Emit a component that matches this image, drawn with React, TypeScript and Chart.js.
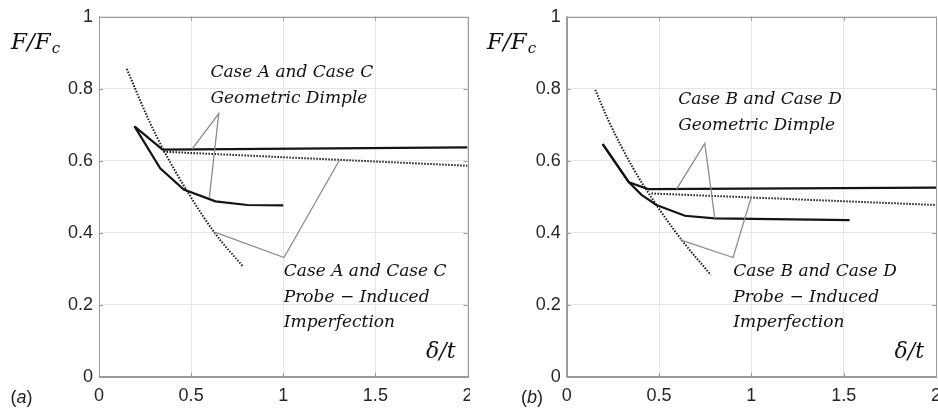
import React, { useEffect, useRef } from 'react';
import { Chart, registerables } from 'chart.js';

Chart.register(...registerables);

const X_TICKS = [0, 0.5, 1, 1.5, 2];
const Y_TICKS = [0, 0.2, 0.4, 0.6, 0.8, 1];

// ---------- Panel (a) ----------
const aGeoUpperX = [0.196, 0.345, 2.0];
const aGeoUpperY = [0.694, 0.631, 0.637];
const aGeoLowerX = [0.192, 0.332, 0.46, 0.632, 0.805, 1.0];
const aGeoLowerY = [0.696, 0.579, 0.52, 0.487, 0.477, 0.476];
const aProbeSteepX = [0.151, 0.27, 0.35, 0.48, 0.63, 0.78];
const aProbeSteepY = [0.855, 0.713, 0.63, 0.514, 0.398, 0.307];
const aProbeFlatX = [0.35, 2.0];
const aProbeFlatY = [0.625, 0.586];
const aGeoLeaderX = [0.505, 0.65, 0.599];
const aGeoLeaderY = [0.632, 0.731, 0.498];
const aProbeLeaderX = [0.632, 1.004, 1.303];
const aProbeLeaderY = [0.401, 0.331, 0.6];
const aGeoText = ['Case A and Case C', 'Geometric Dimple'];
const aProbeText = ['Case A and Case C', 'Probe \u2212 Induced', 'Imperfection'];

// ---------- Panel (b) ----------
const bGeoUpperX = [0.195, 0.337, 0.441, 2.0];
const bGeoUpperY = [0.646, 0.54, 0.521, 0.525];
const bGeoLowerX = [0.195, 0.337, 0.405, 0.486, 0.64, 0.802, 1.532];
const bGeoLowerY = [0.646, 0.54, 0.505, 0.477, 0.447, 0.44, 0.435];
const bProbeSteepX = [0.155, 0.225, 0.36, 0.486, 0.622, 0.78];
const bProbeSteepY = [0.797, 0.713, 0.579, 0.477, 0.38, 0.283];
const bProbeFlatX = [0.459, 2.0];
const bProbeFlatY = [0.509, 0.477];
const bGeoLeaderX = [0.595, 0.748, 0.802];
const bGeoLeaderY = [0.521, 0.648, 0.44];
const bProbeLeaderX = [0.616, 0.901, 1.0];
const bProbeLeaderY = [0.38, 0.331, 0.5];
const bGeoText = ['Case B and Case D', 'Geometric Dimple'];
const bProbeText = ['Case B and Case D', 'Probe \u2212 Induced', 'Imperfection'];

const X_TITLE = '\u03b4/t';
const Y_TITLE_MAIN = 'F/F';
const Y_TITLE_SUB = 'c';

// label anchors (data coordinates of first line, left edge)
const PANEL_A = {
  label: 'a',
  labelCenterX: 21.5,
  yWidth: 99,
  padRight: 2.5,
  yTitleLeft: 11,
  texts: [
    { lines: aGeoText, x: 0.605, y: 0.8436 },
    { lines: aProbeText, x: 1.003, y: 0.2917 },
  ],
  series: {
    geoUpper: [aGeoUpperX, aGeoUpperY],
    geoLower: [aGeoLowerX, aGeoLowerY],
    probeSteep: [aProbeSteepX, aProbeSteepY],
    probeFlat: [aProbeFlatX, aProbeFlatY],
    geoLeader: [aGeoLeaderX, aGeoLeaderY],
    probeLeader: [aProbeLeaderX, aProbeLeaderY],
  },
};

const PANEL_B = {
  label: 'b',
  labelCenterX: 62,
  yWidth: 96.7,
  padRight: 2,
  yTitleLeft: 17,
  texts: [
    { lines: bGeoText, x: 0.604, y: 0.769 },
    { lines: bProbeText, x: 0.902, y: 0.2917 },
  ],
  series: {
    geoUpper: [bGeoUpperX, bGeoUpperY],
    geoLower: [bGeoLowerX, bGeoLowerY],
    probeSteep: [bProbeSteepX, bProbeSteepY],
    probeFlat: [bProbeFlatX, bProbeFlatY],
    geoLeader: [bGeoLeaderX, bGeoLeaderY],
    probeLeader: [bProbeLeaderX, bProbeLeaderY],
  },
};

const MATH_FONT = '"DejaVu Serif", serif';
const SANS_FONT = '"Liberation Sans", Arial, sans-serif';
const BOX_COLOR = '#9a9a9a';

const decorPlugin = {
  id: 'decor',
  beforeDatasetsDraw(chart: any) {
    const { ctx, chartArea: a } = chart;
    const xs = chart.scales.x;
    const ys = chart.scales.y;
    ctx.save();
    ctx.strokeStyle = BOX_COLOR;
    ctx.lineWidth = 1;
    ctx.beginPath();
    X_TICKS.forEach((v) => {
      const px = Math.round(xs.getPixelForValue(v)) + 0.5;
      ctx.moveTo(px, a.bottom);
      ctx.lineTo(px, a.bottom - 4);
      ctx.moveTo(px, a.top);
      ctx.lineTo(px, a.top + 4);
    });
    Y_TICKS.forEach((v) => {
      const py = Math.round(ys.getPixelForValue(v)) + 0.5;
      ctx.moveTo(a.left, py);
      ctx.lineTo(a.left + 4, py);
      ctx.moveTo(a.right, py);
      ctx.lineTo(a.right - 4, py);
    });
    ctx.stroke();
    ctx.restore();
  },
  afterDraw(chart: any, _args: any, opts: any) {
    const { ctx, chartArea: a } = chart;
    const xs = chart.scales.x;
    const ys = chart.scales.y;
    ctx.save();
    // box
    ctx.strokeStyle = BOX_COLOR;
    ctx.lineWidth = 1;
    ctx.strokeRect(Math.round(a.left) + 0.5, Math.round(a.top) + 0.5, Math.round(a.right - a.left), Math.round(a.bottom - a.top));

    // annotation texts
    ctx.fillStyle = '#111';
    ctx.font = `italic 17px ${MATH_FONT}`;
    ctx.textAlign = 'left';
    ctx.textBaseline = 'middle';
    (opts.texts || []).forEach((t: any) => {
      const x0 = xs.getPixelForValue(t.x);
      const y0 = ys.getPixelForValue(t.y);
      t.lines.forEach((line: string, i: number) => {
        ctx.fillText(line, x0, y0 + i * 25.5);
      });
    });

    // x title inside plot (bottom right)
    ctx.font = `italic 22px ${MATH_FONT}`;
    ctx.textAlign = 'right';
    ctx.textBaseline = 'alphabetic';
    ctx.fillText(X_TITLE, a.right - 12, a.bottom - 19);

    // y title top-left
    ctx.textAlign = 'left';
    ctx.font = `italic 23px ${MATH_FONT}`;
    const yl = opts.yTitleLeft;
    ctx.fillText(Y_TITLE_MAIN, yl, 49);
    const w = ctx.measureText(Y_TITLE_MAIN).width;
    ctx.font = `italic 15px ${MATH_FONT}`;
    ctx.fillText(Y_TITLE_SUB, yl + w + 1, 53);

    // panel label (a)/(b)
    ctx.fillStyle = '#222';
    ctx.textBaseline = 'middle';
    const cy = 398;
    const pOpen = '(';
    const pClose = ')';
    ctx.font = `18px ${SANS_FONT}`;
    const wo = ctx.measureText(pOpen).width;
    const wc = ctx.measureText(pClose).width;
    ctx.font = `italic 18px ${SANS_FONT}`;
    const wl = ctx.measureText(opts.label).width;
    let x = opts.labelCenterX - (wo + wl + wc) / 2;
    ctx.font = `18px ${SANS_FONT}`;
    ctx.fillText(pOpen, x, cy);
    x += wo;
    ctx.font = `italic 18px ${SANS_FONT}`;
    ctx.fillText(opts.label, x, cy);
    x += wl;
    ctx.font = `18px ${SANS_FONT}`;
    ctx.fillText(pClose, x, cy);
    ctx.restore();
  },
};

function toPoints(xs: number[], ys: number[]) {
  return xs.map((x, i) => ({ x, y: ys[i] }));
}

function buildConfig(panel: any): any {
  const s = panel.series;
  const leader = (pair: number[][]) => ({
    data: toPoints(pair[0], pair[1]),
    showLine: true,
    pointRadius: 0,
    borderColor: '#8c8c8c',
    borderWidth: 1.3,
    tension: 0,
  });
  const solid = (pair: number[][]) => ({
    data: toPoints(pair[0], pair[1]),
    showLine: true,
    pointRadius: 0,
    borderColor: '#141414',
    borderWidth: 2.2,
    tension: 0,
  });
  const dotted = (pair: number[][], smooth: boolean) => ({
    data: toPoints(pair[0], pair[1]),
    showLine: true,
    pointRadius: 0,
    borderColor: '#1a1a1a',
    borderWidth: 2,
    borderDash: [1.5, 1.5],
    cubicInterpolationMode: smooth ? 'monotone' : 'default',
    tension: 0,
  });
  return {
    type: 'scatter',
    data: {
      datasets: [
        leader(s.geoLeader),
        leader(s.probeLeader),
        dotted(s.probeSteep, true),
        dotted(s.probeFlat, false),
        solid(s.geoLower),
        solid(s.geoUpper),
      ],
    },
    options: {
      animation: false,
      responsive: false,
      events: [],
      layout: { padding: { left: 0, right: panel.padRight, top: 16.7, bottom: 0 } },
      plugins: {
        legend: { display: false },
        tooltip: { enabled: false },
        decor: {
          texts: panel.texts,
          yTitleLeft: panel.yTitleLeft,
          label: panel.label,
          labelCenterX: panel.labelCenterX,
        },
      },
      scales: {
        x: {
          type: 'linear',
          min: 0,
          max: 2,
          afterBuildTicks: (sc: any) => {
            sc.ticks = X_TICKS.map((v) => ({ value: v }));
          },
          ticks: {
            autoSkip: false,
            maxRotation: 0,
            padding: 9,
            color: '#262626',
            font: { family: SANS_FONT, size: 18 },
            callback: (v: any) => String(v),
          },
          grid: { color: '#e6e6e6', drawTicks: false, lineWidth: 1 },
          border: { display: true, color: BOX_COLOR, width: 1 },
          afterFit: (sc: any) => {
            sc.height = 32.3;
            sc.paddingLeft = 0;
            sc.paddingRight = 0;
          },
        },
        y: {
          type: 'linear',
          min: 0,
          max: 1,
          afterBuildTicks: (sc: any) => {
            sc.ticks = Y_TICKS.map((v) => ({ value: v }));
          },
          ticks: {
            autoSkip: false,
            padding: 6,
            color: '#262626',
            font: { family: SANS_FONT, size: 18 },
            callback: (v: any) => String(v),
          },
          grid: { color: '#e6e6e6', drawTicks: false, lineWidth: 1 },
          border: { display: true, color: BOX_COLOR, width: 1 },
          afterFit: (sc: any) => {
            sc.width = panel.yWidth;
            sc.paddingTop = 0;
            sc.paddingBottom = 0;
          },
        },
      },
    },
    plugins: [decorPlugin],
  };
}

export default function App() {
  const aRef = useRef<HTMLCanvasElement>(null);
  const bRef = useRef<HTMLCanvasElement>(null);
  useEffect(() => {
    const ca = new Chart(aRef.current as HTMLCanvasElement, buildConfig(PANEL_A));
    const cb = new Chart(bRef.current as HTMLCanvasElement, buildConfig(PANEL_B));
    return () => {
      ca.destroy();
      cb.destroy();
    };
  }, []);
  return (
    <div
      style={{
        position: 'fixed',
        left: 0,
        top: 0,
        width: 938,
        height: 409,
        overflow: 'hidden',
        background: '#fff',
      }}
    >
      <canvas
        ref={aRef}
        width={470}
        height={409}
        style={{ position: 'absolute', left: 0, top: 0, width: 470, height: 409 }}
      />
      <canvas
        ref={bRef}
        width={468}
        height={409}
        style={{ position: 'absolute', left: 470, top: 0, width: 468, height: 409 }}
      />
    </div>
  );
}
